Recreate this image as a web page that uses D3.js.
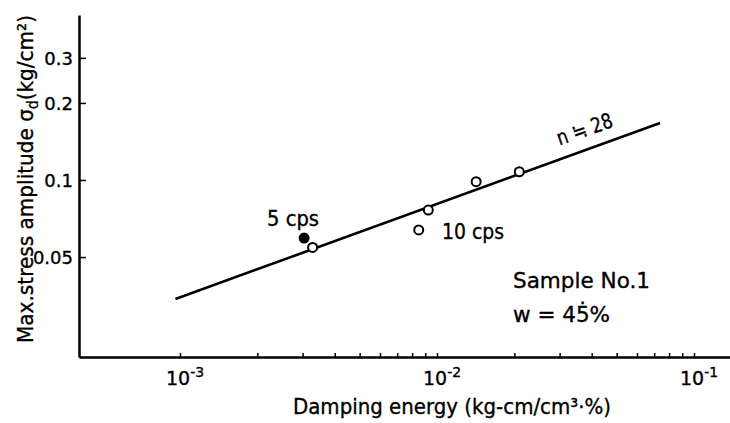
<!DOCTYPE html>
<html>
<head>
<meta charset="utf-8">
<script src="https://cdn.jsdelivr.net/npm/d3@7"></script>
<style>
  body { margin: 0; background: #fff; }
  svg { display: block; }
  text { font-family: "DejaVu Sans", sans-serif; fill: #000; stroke: #000; stroke-width: 0.35px; }
</style>
</head>
<body>
<svg id="chart" width="730" height="423"></svg>
<script>
// measured points (kg-cm/cm3 %, kg/cm2)
const openEnergy = [3.28e-3, 9.25e-3, 1.42e-2, 2.09e-2];
const openStress = [0.0545, 0.0763, 0.0985, 0.1077];
const tenEnergy = [8.49e-3];
const tenStress = [0.0638];
const fiveEnergy = [3.04e-3];
const fiveStress = [0.0593];
// fitted line end points
const fitEnergy = [9.6e-4, 0.0738];
const fitStress = [0.0343, 0.167];

const yTickValues = [0.05, 0.1, 0.2, 0.3];
const yTickLabels = ["0.05", "0.1", "0.2", "0.3"];
const xDecades = [1e-3, 1e-2, 1e-1];
const xExponents = ["-3", "-2", "-1"];

const svg = d3.select("#chart");

// decade spacing is the same on both axes
const x0 = d3.scaleLog().domain([1e-3, 1e-1]).range([180, 694]);
const x = x0.copy().domain([x0.invert(79), x0.invert(730)]).range([79, 730]);
const y0 = d3.scaleLog().domain([0.1, 1]).range([180, -76]);
const y = y0.copy().domain([y0.invert(357), y0.invert(15)]).range([357, 15]);

const xAxis = svg.append("g")
    .attr("transform", "translate(0,357)")
    .call(d3.axisBottom(x).tickValues(x0.ticks()).tickSize(-4).tickSizeOuter(0).tickFormat(""));
xAxis.select(".domain").attr("stroke-width", 2.5);
xAxis.selectAll(".tick line").attr("stroke-width", 1.5);

const yAxis = svg.append("g")
    .attr("transform", "translate(79,0)")
    .call(d3.axisLeft(y).tickValues(yTickValues).tickSize(-7).tickSizeOuter(0).tickPadding(6)
        .tickFormat((d, i) => yTickLabels[i]));
yAxis.select(".domain").attr("stroke-width", 2.5);
yAxis.selectAll(".tick line").attr("stroke-width", 1.5);
yAxis.selectAll(".tick text").attr("font-size", 18).attr("font-family", "DejaVu Sans").attr("dy", "0.36em");

// decade labels 10^n
xDecades.forEach((d, i) => {
    const t = svg.append("text")
        .attr("x", x(d) - 14)
        .attr("y", 385)
        .attr("font-size", 19);
    t.append("tspan").text("10");
    t.append("tspan").attr("dy", -8).attr("font-size", 14).text(xExponents[i]);
});

// fitted line
const line = d3.line().x(d => x(d[0])).y(d => y(d[1]));
svg.append("path")
    .datum(d3.zip(fitEnergy, fitStress))
    .attr("d", line)
    .attr("fill", "none")
    .attr("stroke", "#000")
    .attr("stroke-width", 2.6);

const drawPoints = (es, ss, filled) => {
    svg.selectAll(null)
        .data(d3.zip(es, ss))
        .join("circle")
        .attr("cx", d => x(d[0]))
        .attr("cy", d => y(d[1]))
        .attr("r", 4.5)
        .attr("fill", filled ? "#000" : "#fff")
        .attr("stroke", "#000")
        .attr("stroke-width", 2);
};
drawPoints(openEnergy, openStress, false);
drawPoints(tenEnergy, tenStress, false);
drawPoints(fiveEnergy, fiveStress, true);

// annotations
const note = (txt, px, py, size, len) => svg.append("text")
    .attr("x", px).attr("y", py)
    .attr("font-size", size)
    .attr("textLength", len)
    .attr("lengthAdjust", "spacingAndGlyphs")
    .text(txt);

note("5 cps", 267, 226, 21, 52);
note("10 cps", 442, 239, 21, 62);
note("Sample No.1", 513, 288, 21, 137);
note("w = 45\u0307%", 513, 322, 21, 97);

svg.append("text")
    .attr("transform", "translate(587,136) rotate(-19)")
    .attr("text-anchor", "middle")
    .attr("font-size", 21)
    .attr("textLength", 58)
    .attr("lengthAdjust", "spacingAndGlyphs")
    .text("n \u2252 28");

// axis titles
svg.append("text")
    .attr("x", 293).attr("y", 414)
    .attr("font-size", 21)
    .attr("textLength", 318)
    .attr("lengthAdjust", "spacingAndGlyphs")
    .text("Damping  energy (kg-cm/cm\u00b3\u00b7%)");

const yTitle = svg.append("text")
    .attr("transform", "translate(33,343) rotate(-90)")
    .attr("font-size", 22)
    .attr("textLength", 328)
    .attr("lengthAdjust", "spacingAndGlyphs");
yTitle.append("tspan").text("Max.stress amplitude  \u03c3");
yTitle.append("tspan").attr("dy", 5).attr("font-size", 15).text("d");
yTitle.append("tspan").attr("dy", -5).text("(kg/cm\u00b2)");
</script>
</body>
</html>
